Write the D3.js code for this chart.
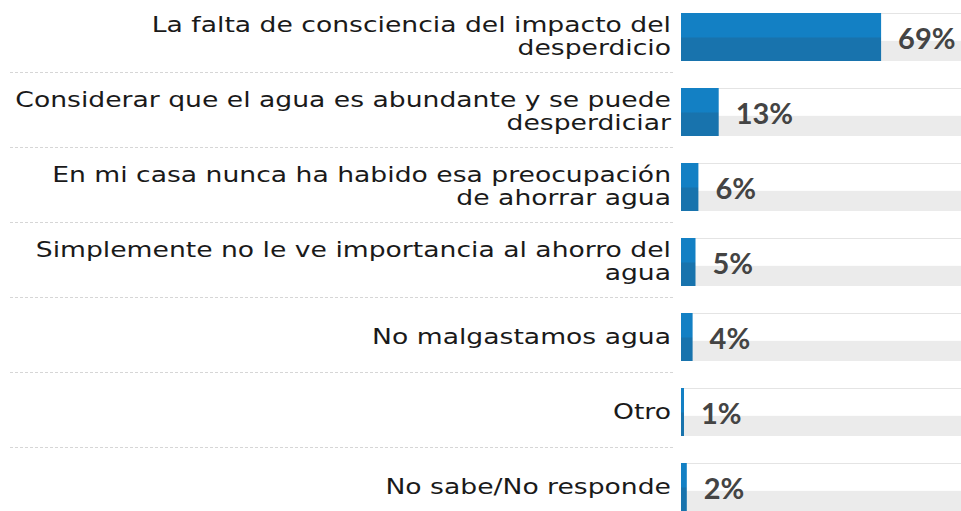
<!DOCTYPE html>
<html>
<head>
<meta charset="utf-8">
<script src="https://cdn.jsdelivr.net/npm/d3@7"></script>
<style>
  body { margin: 0; background: #fff; }
  svg { display: block; }
</style>
</head>
<body>
<div class="chart"></div>
<script>
// Data
var categories = [
  "La falta de consciencia del impacto del desperdicio",
  "Considerar que el agua es abundante y se puede desperdiciar",
  "En mi casa nunca ha habido esa preocupación de ahorrar agua",
  "Simplemente no le ve importancia al ahorro del agua",
  "No malgastamos agua",
  "Otro",
  "No sabe/No responde"
];
var values = [69, 13, 6, 5, 4, 1, 2];
// label lines as they are broken in the reference
var labelLines = [
  ["La falta de consciencia del impacto del", "desperdicio"],
  ["Considerar que el agua es abundante y se puede", "desperdiciar"],
  ["En mi casa nunca ha habido esa preocupación", "de ahorrar agua"],
  ["Simplemente no le ve importancia al ahorro del", "agua"],
  ["No malgastamos agua"],
  ["Otro"],
  ["No sabe/No responde"]
];

var svgWidth = 961, svgHeight = 511;
var barLeft = 681;

var data = categories.map(function(c, i) {
  return { cat: c, value: values[i], lines: labelLines[i] };
});

var svg = d3.select(".chart")
  .append("svg")
  .attr("width", svgWidth)
  .attr("height", svgHeight);

var defs = svg.append("defs");
var grad = defs.append("linearGradient")
  .attr("id", "barGrad")
  .attr("x1", 0).attr("y1", 0).attr("x2", 0).attr("y2", 1);
grad.append("stop").attr("offset", "0%").attr("stop-color", "#1380c4");
grad.append("stop").attr("offset", "50%").attr("stop-color", "#1380c4");
grad.append("stop").attr("offset", "52%").attr("stop-color", "#1873ad");
grad.append("stop").attr("offset", "100%").attr("stop-color", "#1873ad");

var y = d3.scaleBand()
  .domain(categories)
  .range([13, 511])
  .paddingInner(0.36)
  .paddingOuter(0);

var x = d3.scaleLinear()
  .domain([0, 100])
  .range([0, 290]);

var bh = y.bandwidth();

// dashed separators between rows
svg.selectAll("line.sep")
  .data(data.slice(1))
  .enter()
  .append("line")
  .attr("class", "sep")
  .attr("x1", 10)
  .attr("x2", 673)
  .attr("y1", d => y(d.cat) - 15.5)
  .attr("y2", d => y(d.cat) - 15.5)
  .attr("stroke", "#d6d6d6")
  .attr("stroke-width", 1)
  .attr("stroke-dasharray", "3,2");

var rows = svg.selectAll("g.row")
  .data(data)
  .enter()
  .append("g")
  .attr("class", "row")
  .attr("transform", d => `translate(0,${y(d.cat)})`);

// track: thin top line, white upper half, grey lower half
rows.append("rect")
  .attr("x", barLeft)
  .attr("y", 0)
  .attr("width", svgWidth - barLeft)
  .attr("height", 1)
  .attr("fill", "#e4e4e4");
rows.append("rect")
  .attr("x", barLeft)
  .attr("y", bh * 0.58)
  .attr("width", svgWidth - barLeft)
  .attr("height", bh * 0.42)
  .attr("fill", "#ebebeb");

// bars
rows.append("rect")
  .attr("x", barLeft)
  .attr("y", 0)
  .attr("width", d => Math.max(x(d.value), 3))
  .attr("height", bh)
  .attr("fill", "url(#barGrad)");

// value labels
rows.append("text")
  .attr("x", d => barLeft + Math.max(x(d.value), 3) + 17)
  .attr("y", 36)
  .attr("font-family", "Lato, sans-serif")
  .attr("font-weight", "bold")
  .attr("font-size", "29px")
  .attr("fill", "#444")
  .text(d => d.value + "%");

// category labels (stretched to get the wide look of the original face)
rows.each(function(d) {
  var g = d3.select(this);
  var n = d.lines.length;
  var t = g.append("text")
    .attr("transform", "translate(671,0) scale(1.21,1)")
    .attr("text-anchor", "end")
    .attr("font-family", "DejaVu Sans, sans-serif")
    .attr("font-size", "22px")
    .attr("fill", "#1a1a1a");
  d.lines.forEach(function(line, i) {
    t.append("tspan")
      .attr("x", 0)
      .attr("y", n === 1 ? 31 : 19 + i * 23.5)
      .text(line);
  });
});
</script>
</body>
</html>
